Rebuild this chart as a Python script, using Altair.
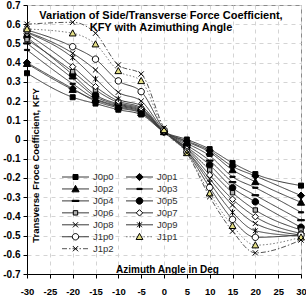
import altair as alt
import pandas as pd

FONT = "Liberation Sans"

# Azimuth angles (deg) at which KFY was measured
angles = [-30, -20, -15, -10, -5, 0, 5, 10, 15, 20, 30]

# Transverse force coefficient KFY, one list per advance-ratio case
J0p0 = [0.345, 0.220, 0.187, 0.155, 0.130, 0.040, 0.000, -0.050, -0.122, -0.180, -0.240]
J0p1 = [0.400, 0.265, 0.200, 0.165, 0.138, 0.040, -0.008, -0.058, -0.140, -0.190, -0.292]
J0p2 = [0.395, 0.260, 0.206, 0.170, 0.140, 0.040, -0.012, -0.066, -0.158, -0.220, -0.327]
J0p3 = [0.466, 0.290, 0.212, 0.175, 0.145, 0.040, -0.020, -0.085, -0.194, -0.251, -0.379]
J0p4 = [0.500, 0.318, 0.223, 0.180, 0.150, 0.040, -0.030, -0.110, -0.222, -0.290, -0.420]
J0p5 = [0.532, 0.337, 0.232, 0.185, 0.155, 0.040, -0.040, -0.133, -0.251, -0.324, -0.457]
J0p6 = [0.520, 0.353, 0.258, 0.192, 0.160, 0.040, -0.045, -0.159, -0.277, -0.367, -0.471]
J0p7 = [0.550, 0.379, 0.275, 0.200, 0.165, 0.040, -0.050, -0.185, -0.311, -0.402, -0.489]
J0p8 = [0.560, 0.449, 0.362, 0.246, 0.200, 0.045, -0.058, -0.205, -0.341, -0.437, -0.497]
J0p9 = [0.556, 0.426, 0.315, 0.211, 0.175, 0.040, -0.060, -0.225, -0.379, -0.475, -0.503]
J1p0 = [0.570, 0.483, 0.418, 0.305, 0.249, 0.050, -0.065, -0.250, -0.416, -0.509, -0.497]
J1p1 = [0.575, 0.553, 0.496, 0.357, 0.305, 0.050, -0.070, -0.280, -0.449, -0.550, -0.509]
J1p2 = [0.600, 0.610, 0.553, 0.388, 0.341, 0.060, -0.070, -0.298, -0.477, -0.590, -0.523]

series_names = ["J0p0", "J0p1", "J0p2", "J0p3", "J0p4", "J0p5", "J0p6",
                "J0p7", "J0p8", "J0p9", "J1p0", "J1p1", "J1p2"]
series_values = [J0p0, J0p1, J0p2, J0p3, J0p4, J0p5, J0p6,
                 J0p7, J0p8, J0p9, J1p0, J1p1, J1p2]

rows = []
for name, vals in zip(series_names, series_values):
    for a, v in zip(angles, vals):
        rows.append({"series": name, "angle": a, "kfy": v})
df = pd.DataFrame(rows)
legend_df = pd.DataFrame({"series": series_names, "order": list(range(len(series_names)))})


# ---- marker geometry as SVG paths in the unit square ----
def f(v):
    return f"{v:.4f}".rstrip("0").rstrip(".")


def square(h):
    return f"M{f(-h)},{f(-h)}H{f(h)}V{f(h)}H{f(-h)}Z"


def diamond(h):
    return f"M0,{f(-h)}L{f(h)},0L0,{f(h)}L{f(-h)},0Z"


def triangle(h):
    return f"M0,{f(-h)}L{f(h)},{f(0.8 * h)}L{f(-h)},{f(0.8 * h)}Z"


def circle(h):
    return (f"M{f(h)},0A{f(h)},{f(h)} 0 1,1 {f(-h)},0"
            f"A{f(h)},{f(h)} 0 1,1 {f(h)},0Z")


def dash(w, t):
    return f"M{f(-w)},{f(-t)}H{f(w)}V{f(t)}H{f(-w)}Z"


def cross(h):
    return f"M{f(-h)},{f(-h)}L{f(h)},{f(h)}M{f(-h)},{f(h)}L{f(h)},{f(-h)}"


def star(h):
    return cross(h) + f"M0,{f(-1.3 * h)}V{f(1.3 * h)}"


PLOT_SIZE = 49          # 7 px square -> 3.5 px per path unit
k = 1 / 3.5

marker_paths = {
    "J0p0": square(2.5 * k),
    "J0p1": diamond(3.6 * k),
    "J0p2": triangle(3.6 * k),
    "J0p3": dash(2.6 * k, 0.6 * k),
    "J0p4": dash(3.4 * k, 0.6 * k),
    "J0p5": circle(3.3 * k),
    "J0p6": square(2.2 * k),
    "J0p7": diamond(3.2 * k),
    "J0p8": cross(2.6 * k),
    "J0p9": star(2.4 * k),
    "J1p0": circle(3.2 * k),
    "J1p1": triangle(3.4 * k),
    "J1p2": cross(2.6 * k),
}
marker_fills = {
    "J0p0": "black", "J0p1": "black", "J0p2": "black", "J0p3": "black",
    "J0p4": "black", "J0p5": "black", "J0p6": "#b0b0b0", "J0p7": "white",
    "J0p8": "black", "J0p9": "black", "J1p0": "white", "J1p1": "#e4df86",
    "J1p2": "black",
}

shape_scale = alt.Scale(domain=series_names, range=[marker_paths[n] for n in series_names])
fill_scale = alt.Scale(domain=series_names, range=[marker_fills[n] for n in series_names])
color_scale = alt.Scale(domain=series_names, range=["#3a3a3a"] * 11 + ["#7a7a7a", "#555555"])
dash_scale = alt.Scale(domain=series_names, range=[[1, 0]] * 11 + [[1.5, 2], [5, 2, 1.5, 2]])

x_enc = alt.X(
    "angle:Q",
    scale=alt.Scale(domain=[-30, 30], nice=False, zero=False),
    axis=alt.Axis(
        values=list(range(-30, 31, 5)),
        labelExpr="toString(datum.value)",
        labelFlush=False, labelFontSize=9.5,
        title="Azimuth Angle in Deg",
        titleFontSize=10, titleFontWeight="bold",
        titleBaseline="alphabetic", titleY=-2, titleX=140,
        labelPadding=8, tickSize=4,
    ),
)
y_enc = alt.Y(
    "kfy:Q",
    scale=alt.Scale(domain=[-0.7, 0.7], nice=False, zero=False),
    axis=alt.Axis(
        values=[round(-0.7 + 0.1 * i, 1) for i in range(15)],
        labelExpr="toString(datum.value)",
        labelFlush=False,
        title="Transverse Froce Coefficient, KFY",
        titleFontSize=9.5, titleFontWeight="bold",
        titleAngle=270, titleBaseline="middle", titleAlign="center",
        titleX=8, titleY=160,
        labelPadding=3, tickSize=4,
    ),
)

base = alt.Chart(df)

lines = base.mark_line(interpolate="monotone", strokeWidth=1).encode(
    x=x_enc, y=y_enc,
    detail="series:N",
    color=alt.Color("series:N", scale=color_scale, legend=None),
    strokeDash=alt.StrokeDash("series:N", scale=dash_scale, legend=None),
)

points = base.mark_point(filled=True, size=PLOT_SIZE, stroke="black", strokeWidth=1, opacity=1).encode(
    x=x_enc, y=y_enc,
    shape=alt.Shape("series:N", scale=shape_scale, legend=None),
    fill=alt.Fill("series:N", scale=fill_scale, legend=None),
)

# Legend: two columns, row-major, placed inside the lower-left of the plot
leg_base = alt.Chart(legend_df).transform_calculate(
    col="datum.order % 2",
    row="floor(datum.order / 2)",
).transform_calculate(
    lx0="35 + datum.col * 64",
    lx1="35 + datum.col * 64 + 27",
    lxc="35 + datum.col * 64 + 13.5",
    ltx="35 + datum.col * 64 + 31",
    ly="172 + datum.row * 11.95",
)

leg_lines = leg_base.mark_rule(strokeWidth=1).encode(
    x=alt.X("lx0:Q", scale=None, axis=None),
    x2="lx1:Q",
    y=alt.Y("ly:Q", scale=None, axis=None),
    color=alt.Color("series:N", scale=color_scale, legend=None),
    strokeDash=alt.StrokeDash("series:N", scale=dash_scale, legend=None),
)
leg_marks = leg_base.mark_point(filled=True, size=PLOT_SIZE, stroke="black", strokeWidth=1, opacity=1).encode(
    x=alt.X("lxc:Q", scale=None, axis=None),
    y=alt.Y("ly:Q", scale=None, axis=None),
    shape=alt.Shape("series:N", scale=shape_scale, legend=None),
    fill=alt.Fill("series:N", scale=fill_scale, legend=None),
)
leg_text = leg_base.mark_text(align="left", baseline="middle", font=FONT, fontSize=9.5, color="#333333").encode(
    x=alt.X("ltx:Q", scale=None, axis=None),
    y=alt.Y("ly:Q", scale=None, axis=None),
    text="series:N",
)

chart = alt.layer(lines, points, leg_lines, leg_marks, leg_text).properties(
    width=274, height=269,
    autosize=alt.AutoSizeParams(type="none"),
    padding={"left": 27, "top": 5, "right": 5, "bottom": 25},
    title=alt.TitleParams(
        text=["Variation of Side/Transverse Force Coefficient,", "KFY with Azimuthing Angle"],
        anchor="middle", frame="group", fontSize=11, fontWeight="bold",
        font=FONT, color="black", offset=-33, dx=-3, lineHeight=12.5,
    ),
).configure(
    background="white",
).configure_view(
    stroke="#8a8a8a", strokeWidth=1,
).configure_axis(
    labelFont=FONT, titleFont=FONT, labelFontWeight="bold", labelFontSize=10,
    labelColor="black", titleColor="black",
    domainColor="black", tickColor="black", domainWidth=1,
    gridColor="#d4d4d4", gridDash=[4, 4], gridWidth=1,
)

chart.save("out.html", embed_options={"renderer": "svg", "actions": False})
